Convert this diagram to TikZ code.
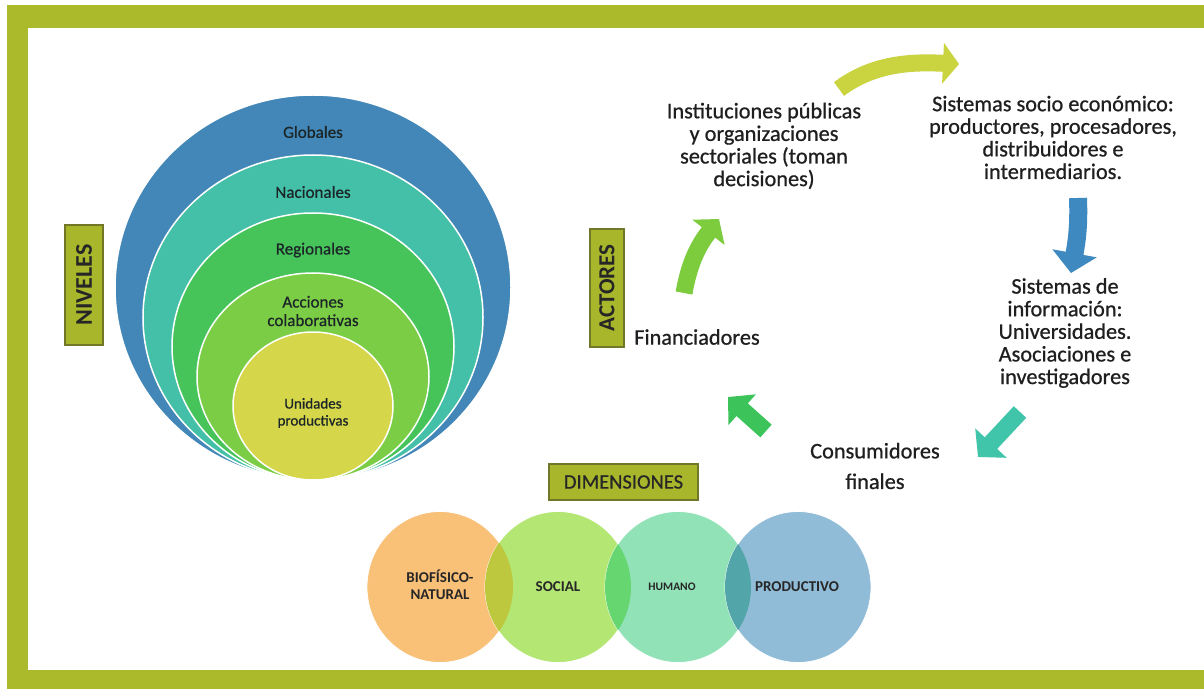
\documentclass[tikz,border=0pt]{standalone}
\usepackage{fontspec}
\setmainfont{Carlito}
\newfontfamily\medfont{Carlito}[FakeBold=0.7]
\usetikzlibrary{shapes.geometric,arrows.meta}
\definecolor{framegreen}{RGB}{170,186,42}
\definecolor{taggreen}{RGB}{168,182,44}
\definecolor{tagborder}{RGB}{112,120,40}
\definecolor{cGlob}{RGB}{66,135,183}
\definecolor{cNac}{RGB}{68,192,168}
\definecolor{cReg}{RGB}{70,196,90}
\definecolor{cAcc}{RGB}{124,205,70}
\definecolor{cUni}{RGB}{214,214,74}
\definecolor{lvltext}{RGB}{28,38,40}
\definecolor{arY}{RGB}{201,212,64}
\definecolor{arB}{RGB}{62,138,192}
\definecolor{arT}{RGB}{64,196,170}
\definecolor{arG}{RGB}{60,196,90}
\definecolor{arL}{RGB}{125,204,62}
\definecolor{dOr}{RGB}{249,192,120}
\definecolor{dSo}{RGB}{180,230,115}
\definecolor{dHu}{RGB}{145,226,182}
\definecolor{dPr}{RGB}{145,188,215}
\definecolor{oOS}{RGB}{190,200,62}
\definecolor{oSH}{RGB}{102,214,112}
\definecolor{oHP}{RGB}{82,165,168}
\begin{document}
\begin{tikzpicture}[x=1bp,y=-1bp,
  lvl/.style={ellipse, draw=white, line width=1.5bp, inner sep=0pt},
  lvltxt/.style={font=\medfont\fontsize{17bp}{18.5bp}\selectfont, text=lvltext, align=center},
  tag/.style={draw=tagborder, fill=taggreen, line width=1.2bp, inner sep=0pt, text=black!85},
  actor/.style={font=\medfont\fontsize{22.3bp}{22.6bp}\selectfont, align=center, text=black!88},
  dimc/.style={ellipse, draw=white, line width=0.8bp, inner sep=0pt, minimum width=146bp, minimum height=151bp},
  dimtxt/.style={font=\bfseries\fontsize{15bp}{17bp}\selectfont, align=center, text=black!85},
  blk/.style={line width=17bp}
]
\useasboundingbox (0,0) rectangle (1204,689);
\fill[white] (0,0) rectangle (1204,689);
% frame
\fill[framegreen] (7,5) rectangle (1204,689);
\fill[white] (28,28) rectangle (1204,670);

% nested levels
\node[lvl, fill=cGlob, minimum width=396bp, minimum height=385bp] (glob) at (313,287.5) {};
\node[lvl, fill=cNac, minimum width=340bp, minimum height=325bp] (nac) at (313,317.5) {};
\node[lvl, fill=cReg, minimum width=282bp, minimum height=267bp] (reg) at (313,346.5) {};
\node[lvl, fill=cAcc, minimum width=232bp, minimum height=207bp] (acc) at (313,376.5) {};
\node[lvl, fill=cUni, minimum width=160bp, minimum height=148bp] (uni) at (313,406) {};
\node[lvltxt] (tglob) at (313,132) {Globales};
\node[lvltxt] (tnac) at (313,192) {Nacionales};
\node[lvltxt] (treg) at (313,250) {Regionales};
\node[lvltxt] (tacc) at (313,311) {Acciones\\colaborativas};
\node[lvltxt, font=\medfont\fontsize{15bp}{17bp}\selectfont] (tuni) at (313,413) {Unidades\\productivas};

% tags
\node[tag, rotate=90, minimum width=120bp, minimum height=38bp, font=\bfseries\fontsize{24bp}{26bp}\selectfont] (niv) at (84,285) {NIVELES};
\node[tag, rotate=90, minimum width=118bp, minimum height=34bp, font=\bfseries\fontsize{23bp}{25bp}\selectfont] (act) at (607,288) {ACTORES};
\node[tag, minimum width=149bp, minimum height=36bp, font=\medfont\fontsize{20.5bp}{22bp}\selectfont] (dimt) at (623.5,482) {DIMENSIONES};

% actors
\node[actor] (inst) at (764,146) {Instituciones públicas\\y organizaciones\\sectoriales (toman\\decisiones)};
\node[actor] (soc) at (1053,137.5) {Sistemas socio económico:\\productores, procesadores,\\distribuidores e\\intermediarios.};
\node[actor] (info) at (1065,333) {Sistemas de\\información:\\Universidades.\\Asociaciones e\\investigadores};
\node[actor] (fin) at (697,337) {Financiadores};
\node[actor] (cons) at (875,466) {Consumidores\\[8bp]finales};

% arrows
\coordinate (y1) at (839,89);  \coordinate (y2) at (959,64);
\coordinate (b1) at (1078,198); \coordinate (b2) at (1071,273);
\coordinate (t1) at (1020,412); \coordinate (t2) at (978,457);
\coordinate (g1) at (766,431);  \coordinate (g2) at (728,397);
\coordinate (l1) at (684,293);  \coordinate (l2) at (719,219);
\draw[blk, arY, -{Triangle[width=40bp,length=16bp]}] (y1) .. controls (875,62) and (915,62) .. (y2);
\draw[blk, arB, line width=18bp, -{Triangle[width=44bp,length=20bp]}] (b1) .. controls (1079,225) and (1077,240) .. (b2);
\draw[blk, arT, -{Triangle[width=42bp,length=19bp]}] (t1) -- (t2);
\draw[blk, arG, -{Triangle[width=40bp,length=19bp]}] (g1) -- (g2);
\draw[blk, arL, -{Triangle[width=40bp,length=17bp]}] (l1) .. controls (689,265) and (697,247) .. (l2);

% dimensions
\node[dimc, fill=dOr] (bio) at (440,587) {};
\node[dimc, fill=dSo] (soci) at (558,587) {};
\node[dimc, fill=dHu] (hum) at (678,587) {};
\node[dimc, fill=dPr] (prod) at (798,587) {};
\begin{scope}
  \clip (440,587) ellipse [x radius=73, y radius=75.5];
  \fill[oOS] (558,587) ellipse [x radius=73, y radius=75.5];
\end{scope}
\begin{scope}
  \clip (558,587) ellipse [x radius=73, y radius=75.5];
  \fill[oSH] (678,587) ellipse [x radius=73, y radius=75.5];
\end{scope}
\begin{scope}
  \clip (678,587) ellipse [x radius=73, y radius=75.5];
  \fill[oHP] (798,587) ellipse [x radius=73, y radius=75.5];
\end{scope}
\node[dimtxt] (tbio) at (440,585) {BIOFÍSICO-\\NATURAL};
\node[dimtxt] (tsoc) at (558,587) {SOCIAL};
\node[dimtxt, font=\bfseries\fontsize{11.5bp}{13bp}\selectfont] (thum) at (672,587) {HUMANO};
\node[dimtxt] (tprod) at (797,587) {PRODUCTIVO};
\end{tikzpicture}
\end{document}
